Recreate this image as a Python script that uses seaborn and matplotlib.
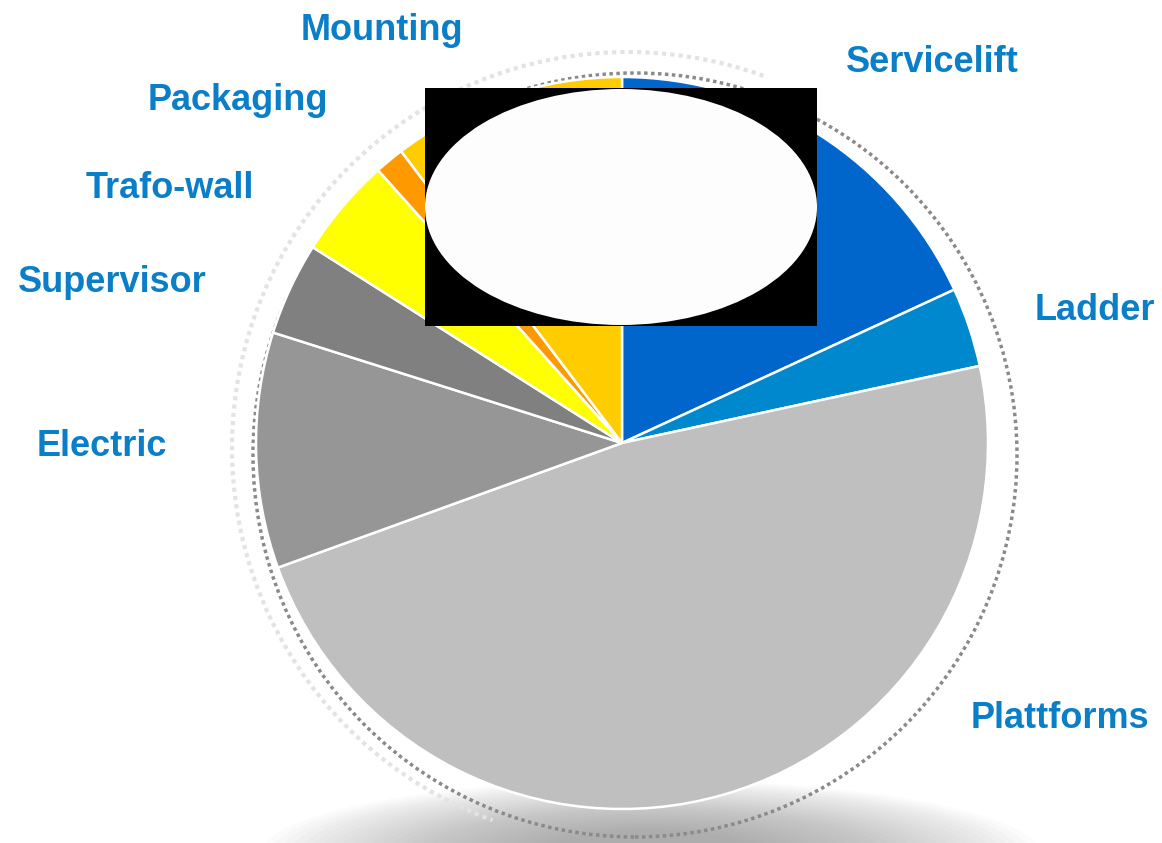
import matplotlib
matplotlib.use("Agg")
import matplotlib.pyplot as plt
import seaborn as sns
from matplotlib.patches import Arc, Circle, Ellipse, Rectangle

# Slice shares (percent), clockwise from the top
parts = ["Servicelift", "Ladder", "Plattforms", "Electric", "Supervisor",
         "Trafo-wall", "Packaging", "Mounting"]
shares = [18.1, 3.5, 47.8, 10.4, 4.1, 4.4, 1.3, 10.3]
slice_colors = ["#0066CC", "#0088CE", "#BFBFBF", "#969696", "#808080",
                "#FFFF00", "#FF9900", "#FFCC00"]

sns.set_theme(style="white")
plt.rcParams["font.family"] = ["Liberation Sans", "DejaVu Sans"]

W, H = 1162, 843
fig = plt.figure(figsize=(W / 100, H / 100), dpi=100)
ax = fig.add_axes([0, 0, 1, 1])

def py(y):
    # picture rows are counted from the top
    return H - y

cx, cy, r = 622, py(443), 366

# soft shadow under the pie
for i in range(30):
    f = i / 29
    ax.add_patch(Ellipse((650, py(855)), 780 - 560 * f, 150 - 100 * f,
                         color="#808080", alpha=0.028, lw=0, zorder=0))

# faint outer arc (top-left) and dotted rim
ax.add_patch(Arc((628, py(448)), 792, 792, theta1=70, theta2=250,
                 ec="#e3e3e3", lw=3, ls=(0, (1, 1)), zorder=1))
ax.add_patch(Circle((635, py(455)), 382, fill=False, ec="#8a8a8a", lw=2.5,
                    ls=(0, (1, 1)), zorder=1))

ax.pie(shares, colors=slice_colors, startangle=90, counterclock=False,
       center=(cx, cy), radius=r, frame=True,
       wedgeprops=dict(edgecolor="white", linewidth=1.8, zorder=2))
ax.set_xlim(0, W)
ax.set_ylim(0, H)
ax.set_aspect("equal")
ax.axis("off")

# black box with a white oval on top of the pie
ax.add_patch(Rectangle((425, py(326)), 392, 238, color="black", lw=0, zorder=5))
ax.add_patch(Ellipse((621, py(207)), 392, 236, color="#fdfdfd", lw=0, zorder=6))

label_pos = {
    "Mounting": (382, 31),
    "Servicelift": (932, 62),
    "Ladder": (1095, 310),
    "Plattforms": (1060, 718),
    "Electric": (102, 446),
    "Supervisor": (112, 283),
    "Trafo-wall": (170, 188),
    "Packaging": (238, 101),
}
for name in parts:
    x, y = label_pos[name]
    ax.text(x, py(y), name, color="#0A7FC8", fontsize=26, fontweight="bold",
            ha="center", va="center", zorder=7)

fig.savefig("out.png", dpi=100)
